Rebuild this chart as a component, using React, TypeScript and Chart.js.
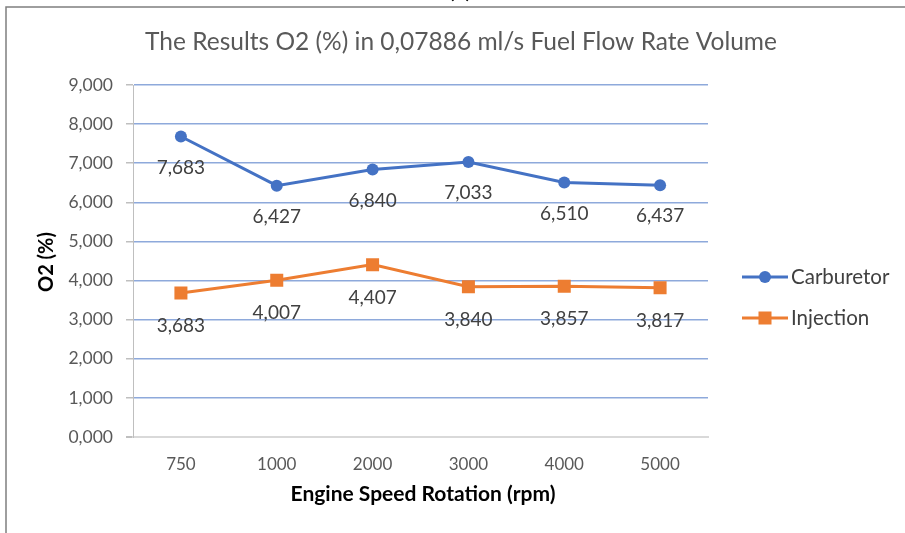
import React, { useEffect, useRef } from "react";
import { Chart, registerables } from "chart.js";

Chart.register(...registerables);

const categories = ["750", "1000", "2000", "3000", "4000", "5000"];
const carburetor = [7.683, 6.427, 6.84, 7.033, 6.51, 6.437];
const injection = [3.683, 4.007, 4.407, 3.84, 3.857, 3.817];
const seriesNames = ["Carburetor", "Injection"];
const titleText = "The Results O2 (%) in 0,07886 ml/s Fuel Flow Rate Volume";
const xTitle = "Engine Speed Rotation (rpm)";
const yTitle = "O2 (%)";

const FONT = "Lato, 'Open Sans', sans-serif";
const BLUE = "#4472C4";
const ORANGE = "#ED7D31";

const fmt = (v: number) => v.toFixed(3).replace(".", ",");

const decorPlugin = {
  id: "decor",
  afterDatasetsDraw(chart: any) {
    const ctx = chart.ctx as CanvasRenderingContext2D;
    ctx.save();
    ctx.font = `19px ${FONT}`;
    ctx.fillStyle = "#404040";
    ctx.textAlign = "center";
    ctx.textBaseline = "middle";
    chart.data.datasets.forEach((ds: any, i: number) => {
      const meta = chart.getDatasetMeta(i);
      meta.data.forEach((pt: any, j: number) => {
        const off = i === 0 ? 31 : 33;
        ctx.fillText(fmt(ds.data[j]), pt.x, pt.y + off);
      });
    });
    ctx.restore();
  },
  afterDraw(chart: any) {
    const ctx = chart.ctx as CanvasRenderingContext2D;
    const area = chart.chartArea;
    ctx.save();
    // frame
    ctx.strokeStyle = "#7F7F7F";
    ctx.lineWidth = 1.5;
    ctx.beginPath();
    ctx.moveTo(6, 533);
    ctx.lineTo(6, 7);
    ctx.lineTo(905, 7);
    ctx.stroke();
    // cut-off caption above the frame
    ctx.fillStyle = "#000000";
    ctx.font = `bold 20px ${FONT}`;
    ctx.textAlign = "center";
    ctx.textBaseline = "alphabetic";
    ctx.fillText("(b)", 460, -2);
    // title
    ctx.fillStyle = "#595959";
    ctx.font = `24.5px ${FONT}`;
    ctx.textBaseline = "middle";
    ctx.fillText(titleText, 461, 42);
    // axis titles
    ctx.fillStyle = "#000000";
    ctx.font = `bold 21px ${FONT}`;
    ctx.fillText(xTitle, 423, 494);
    ctx.save();
    ctx.translate(47, 262);
    ctx.rotate(-Math.PI / 2);
    ctx.font = `bold 20px ${FONT}`;
    ctx.fillText(yTitle, 0, 0);
    ctx.restore();
    // legend
    const items = [
      { name: seriesNames[0], color: BLUE, y: 277, shape: "circle" },
      { name: seriesNames[1], color: ORANGE, y: 318, shape: "square" },
    ];
    items.forEach((it) => {
      ctx.strokeStyle = it.color;
      ctx.fillStyle = it.color;
      ctx.lineWidth = 3;
      ctx.beginPath();
      ctx.moveTo(742, it.y);
      ctx.lineTo(788, it.y);
      ctx.stroke();
      if (it.shape === "circle") {
        ctx.beginPath();
        ctx.arc(765, it.y, 6, 0, Math.PI * 2);
        ctx.fill();
      } else {
        ctx.fillRect(765 - 6.5, it.y - 6.5, 13, 13);
      }
      ctx.fillStyle = "#404040";
      ctx.font = `20.5px ${FONT}`;
      ctx.textAlign = "left";
      ctx.textBaseline = "middle";
      ctx.fillText(it.name, 791, it.y);
    });
    ctx.restore();
  },
};

export default function App() {
  const ref = useRef<HTMLCanvasElement>(null);
  useEffect(() => {
    document.body.style.margin = "0";
    const chart = new Chart(ref.current as HTMLCanvasElement, {
      type: "line",
      data: {
        labels: categories,
        datasets: [
          {
            label: seriesNames[0],
            data: carburetor,
            borderColor: BLUE,
            backgroundColor: BLUE,
            borderWidth: 3,
            pointStyle: "circle",
            pointRadius: 6,
            pointBorderWidth: 0,
            tension: 0,
          },
          {
            label: seriesNames[1],
            data: injection,
            borderColor: ORANGE,
            backgroundColor: ORANGE,
            borderWidth: 3,
            pointStyle: "rect",
            pointRadius: 9.2,
            pointBorderWidth: 0,
            tension: 0,
          },
        ],
      },
      options: {
        animation: false,
        responsive: false,
        devicePixelRatio: 1,
        layout: { padding: { left: 0, right: 197, top: 85, bottom: 0 } },
        plugins: {
          legend: { display: false },
          title: { display: false },
          tooltip: { enabled: false },
        },
        scales: {
          x: {
            offset: true,
            grid: { display: false, drawTicks: false },
            border: { display: true, color: "#D9D9D9", width: 2 },
            ticks: {
              color: "#595959",
              font: { family: FONT, size: 17 },
              padding: 17,
            },
            afterFit: (s: any) => {
              s.height = 96;
            },
          },
          y: {
            min: 0,
            max: 9,
            ticks: {
              stepSize: 1,
              color: "#595959",
              font: { family: FONT, size: 17.5 },
              padding: 13,
              callback: (v: any) => fmt(Number(v)),
            },
            grid: {
              color: (c: any) => (c.tick && c.tick.value === 0 ? "#D9D9D9" : "#8EA9DB"),
              lineWidth: (c: any) => (c.tick && c.tick.value === 0 ? 2 : 1.5),
              tickColor: "#BFBFBF",
              tickLength: 7,
              drawTicks: true,
            },
            border: { display: true, color: "#BFBFBF", width: 1 },
            afterFit: (s: any) => {
              s.width = 133;
            },
          },
        },
      },
      plugins: [decorPlugin],
    });
    return () => chart.destroy();
  }, []);
  return <canvas ref={ref} width={905} height={533} style={{ display: "block" }} />;
}
